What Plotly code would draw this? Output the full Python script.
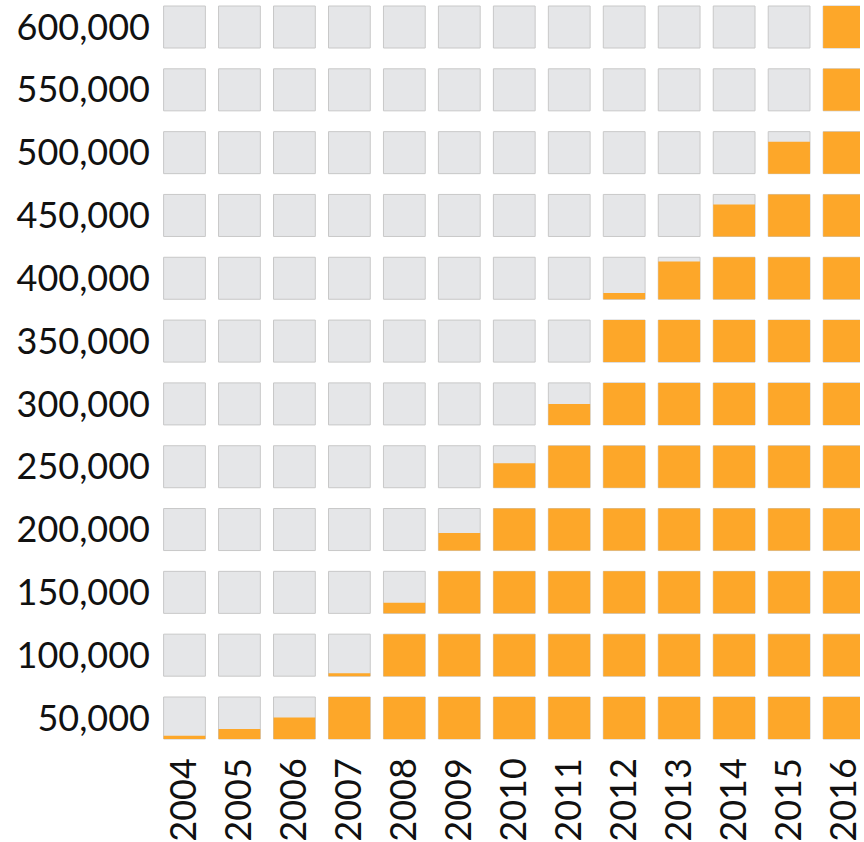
import plotly.graph_objects as go

years = [str(y) for y in range(2004, 2017)]
values = [4000, 12000, 25500, 53500, 112500, 171000, 229000, 275000,
          357500, 395000, 438000, 488000, 610000]
row_values = [50000 * k for k in range(1, 13)]
row_labels = [f"{v:,}" for v in row_values]

CELL = 50000
PITCH = 62.8               # px per row
SQ_H = CELL * 42 / PITCH   # square height in data units
SQ_W = 0.76                # square width in category units

GRAY = "#e5e6e8"
ORANGE = "#fda729"

gx, gbase, gy = [], [], []
ox, obase, oy = [], [], []
for yr, v in zip(years, values):
    for r in row_values:
        lo = r - CELL
        frac = min(max((v - lo) / CELL, 0.0), 1.0)
        b = r - SQ_H / 2
        gx.append(yr); gbase.append(b); gy.append(SQ_H)
        if frac > 0:
            ox.append(yr); obase.append(b); oy.append(frac * SQ_H)

fig = go.Figure()
fig.add_trace(go.Bar(x=gx, y=gy, base=gbase, width=SQ_W,
                     marker=dict(color=GRAY, line=dict(color="#c8c8c8", width=1)),
                     hoverinfo="skip", showlegend=False))
fig.add_trace(go.Bar(x=ox, y=oy, base=obase, width=SQ_W,
                     marker=dict(color=ORANGE, line=dict(width=0)),
                     hoverinfo="skip", showlegend=False))

y_top = 600000 + 27 / PITCH * CELL
y_bot = 50000 - (750 - 718) / PITCH * CELL

fig.update_layout(
    width=864, height=842,
    margin=dict(l=157, r=0, t=0, b=92),
    barmode="overlay",
    plot_bgcolor="white", paper_bgcolor="white",
    font=dict(family="Lato", size=36, color="#111111"),
    xaxis=dict(type="category", categoryorder="array", categoryarray=years,
               range=[-0.5, 12.29], tickangle=-90, showgrid=False,
               zeroline=False, showline=False, ticks="",
               tickfont=dict(family="Lato", size=36, color="#111111"),
               ticklabelstandoff=0, ticklabeloverflow="allow"),
    yaxis=dict(range=[y_bot, y_top], tickvals=row_values, ticktext=row_labels,
               showgrid=False, zeroline=False, showline=False, ticks="",
               tickfont=dict(family="Lato", size=36, color="#111111"),
               ticklabelstandoff=6, ticklabeloverflow="allow"),
)

fig.write_html("out.html")
